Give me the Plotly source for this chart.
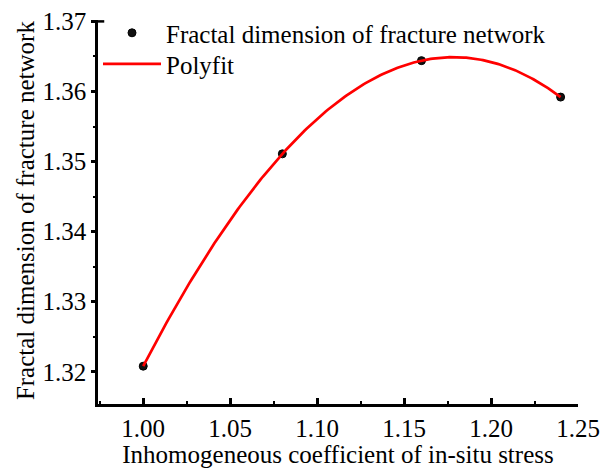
import numpy as np
import plotly.graph_objects as go

# Inhomogeneous coefficient of in-situ stress vs fractal dimension
stress_coef = [1.00, 1.08, 1.16, 1.24]
fractal_dim = [1.3208, 1.3511, 1.3644, 1.3592]

# Polynomial fit through the measured points
coef = np.polyfit(stress_coef, fractal_dim, 3)
x_fit = np.linspace(min(stress_coef), max(stress_coef), 200)
y_fit = np.polyval(coef, x_fit)

x_ticks = [1.00, 1.05, 1.10, 1.15, 1.20, 1.25]
y_ticks = [1.32, 1.33, 1.34, 1.35, 1.36, 1.37]

FONT = "Liberation Serif, Times New Roman, serif"
FS = 25

fig = go.Figure()
fig.add_trace(go.Scatter(
    x=stress_coef, y=fractal_dim, mode="markers",
    name="Fractal dimension of fracture network", legend="legend",
    marker=dict(color="#111111", size=8, line=dict(color="black", width=1)),
))
fig.add_trace(go.Scatter(
    x=x_fit, y=y_fit, mode="lines", name="Polyfit", legend="legend2",
    line=dict(color="#ff0000", width=2.7),
))

legend_style = dict(
    x=0.0, xanchor="left", yanchor="middle",
    bgcolor="rgba(0,0,0,0)", font=dict(family=FONT, size=FS),
    itemwidth=58, tracegroupgap=0,
)

fig.update_layout(
    width=601, height=468,
    margin=dict(l=98, r=23, t=20, b=64, autoexpand=False),
    paper_bgcolor="white", plot_bgcolor="white",
    font=dict(family=FONT, size=FS, color="black"),
    showlegend=True,
    legend=dict(y=0.966, **legend_style),
    legend2=dict(y=0.885, **legend_style),
    xaxis=dict(
        range=[0.974, 1.25], tickvals=x_ticks, ticktext=[f"{v:.2f}" for v in x_ticks],
        showgrid=False, zeroline=False,
        showline=True, linecolor="black", linewidth=2.5,
        ticks="inside", ticklen=6, tickwidth=2.5, tickcolor="black",
        minor=dict(ticks="inside", ticklen=3, tickwidth=2, tickcolor="black", dtick=0.025),
        title=dict(text="Inhomogeneous coefficient of in-situ stress", standoff=2,
                   font=dict(family=FONT, size=FS)),
        tickfont=dict(family=FONT, size=FS),
    ),
    yaxis=dict(
        range=[1.3154, 1.3702], tickvals=y_ticks, ticktext=[f"{v:.2f}" for v in y_ticks],
        showgrid=False, zeroline=False,
        showline=True, linecolor="black", linewidth=2.5,
        ticks="outside", ticklen=4, tickwidth=2.5, tickcolor="black",
        minor=dict(ticks="outside", ticklen=2, tickwidth=2, tickcolor="black", dtick=0.005),
        tickfont=dict(family=FONT, size=FS),
    ),
    annotations=[dict(
        text="Fractal dimension of fracture network",
        xref="paper", yref="paper", x=-0.152, y=0.505,
        xanchor="center", yanchor="middle", textangle=-90, showarrow=False,
        font=dict(family=FONT, size=FS),
    )],
    shapes=[dict(
        type="line", xref="paper", yref="y", x0=0, x1=0.013,
        y0=y_ticks[-1], y1=y_ticks[-1], line=dict(color="black", width=2.5),
    )],
)

fig.write_html("out.html")
